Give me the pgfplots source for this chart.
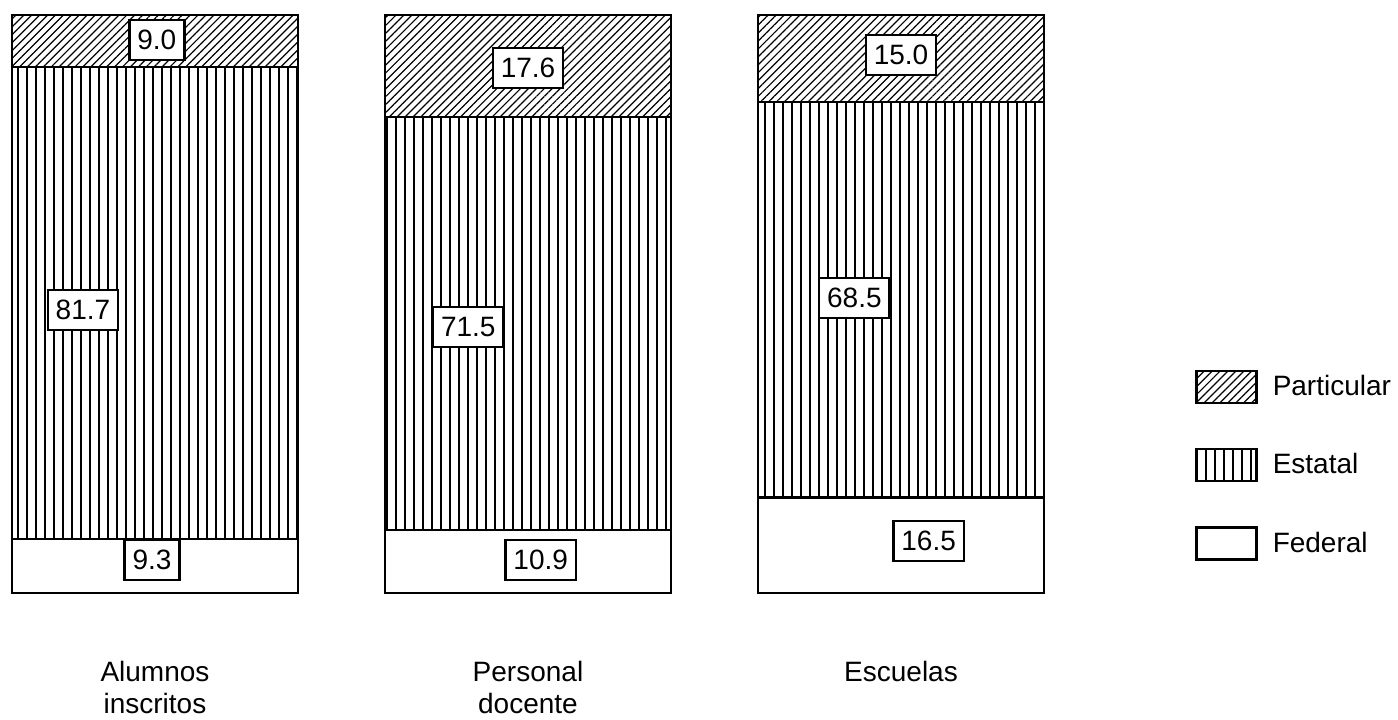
\documentclass[border=0pt]{standalone}
\usepackage{pgfplots}
\pgfplotsset{compat=1.18}
\usepackage{fontspec}
\setmainfont{Liberation Sans}
\usetikzlibrary{patterns.meta}

\tikzset{
  valbox/.style={draw, fill=white, line width=1.2pt, inner xsep=4pt, minimum height=20pt, font=\fontsize{14}{16}\selectfont},
  catlab/.style={anchor=north, align=center, font=\fontsize{14}{16}\selectfont},
}

\begin{document}
\begin{tikzpicture}
  \begin{axis}[
      scale only axis,
      width=699pt, height=358pt,
      xmin=-0.4155, xmax=3.3324,
      ymin=-21.28, ymax=102.6,
      axis lines=none,
      ybar stacked,
      bar width=0.767,
      clip=false,
      reverse legend,
      legend style={at={(axis cs:2.788,22.1)}, anchor=west, draw=none,
        inner sep=0pt, row sep=22pt, font=\fontsize{14}{16}\selectfont,
        nodes={inner xsep=0pt},
        /tikz/every odd column/.append style={column sep=7.5pt}},
      legend cell align=left,
      legend image code/.code={\draw[#1, line width=1.2pt] (0pt,-8pt) rectangle (30pt,8pt);},
    ]
    % Federal
    \addplot[draw=black, line width=1.2pt, fill=white] coordinates {(0,9.3) (1,10.9) (2,16.5)};
    % Estatal
    \addplot[draw=black, line width=1.2pt, pattern={Lines[angle=90, distance=4.5pt, line width=0.8pt]}] coordinates {(0,81.7) (1,71.5) (2,68.5)};
    % Particular
    \addplot[draw=black, line width=1.2pt, pattern={Lines[angle=45, distance=2.8pt, line width=0.6pt]}] coordinates {(0,9.0) (1,17.6) (2,15.0)};
    \legend{Federal, Estatal, Particular}

    % keep the full axis area in the bounding box
    \path (rel axis cs:0,0) rectangle (rel axis cs:1,1);

    % where the value boxes go
    \coordinate (p1) at (axis cs:0.005,95.7);
    \coordinate (e1) at (axis cs:-0.193,49.0);
    \coordinate (f1) at (axis cs:-0.008,5.7);
    \coordinate (p2) at (axis cs:1.0,90.8);
    \coordinate (e2) at (axis cs:0.84,46.0);
    \coordinate (f2) at (axis cs:1.034,5.7);
    \coordinate (p3) at (axis cs:2.0,93.1);
    \coordinate (e3) at (axis cs:1.875,51.0);
    \coordinate (f3) at (axis cs:2.074,9.0);

    % category labels
    \node[catlab] at (axis cs:0,-10.5) {Alumnos\\inscritos};
    \node[catlab] at (axis cs:1,-10.5) {Personal\\docente};
    \node[catlab] at (axis cs:2,-10.5) {Escuelas};
  \end{axis}
  % boxes on top of the bars
  \node[valbox] at (p1) {9.0};
  \node[valbox] at (e1) {81.7};
  \node[valbox] at (f1) {9.3};
  \node[valbox] at (p2) {17.6};
  \node[valbox] at (e2) {71.5};
  \node[valbox] at (f2) {10.9};
  \node[valbox] at (p3) {15.0};
  \node[valbox] at (e3) {68.5};
  \node[valbox] at (f3) {16.5};
\end{tikzpicture}
\end{document}
